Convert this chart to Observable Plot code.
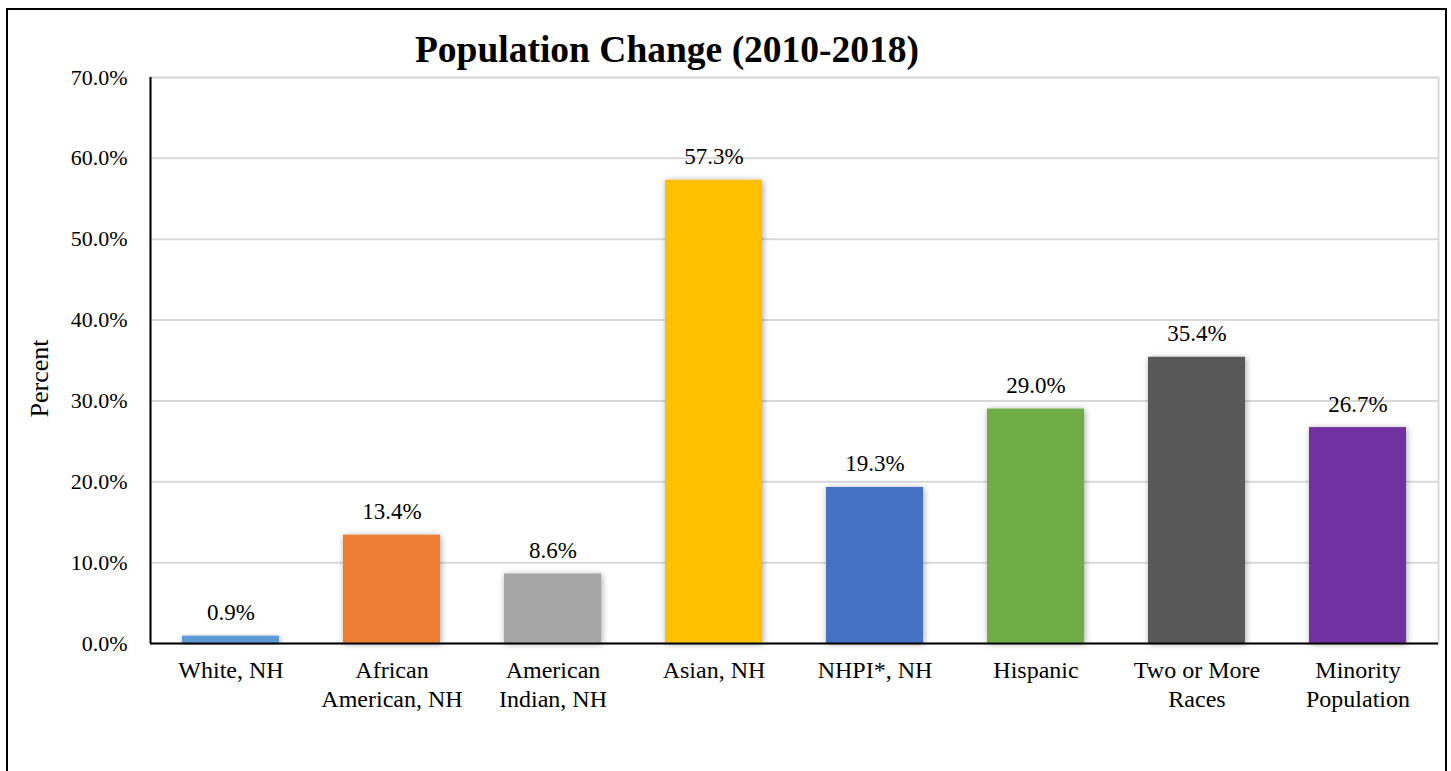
<!DOCTYPE html>
<html>
<head>
<meta charset="utf-8">
<script src="https://cdn.jsdelivr.net/npm/d3@7"></script>
<script src="https://cdn.jsdelivr.net/npm/@observablehq/plot@0.6"></script>
<style>
  html, body { margin: 0; padding: 0; background: #fff; }
  #wrap { position: relative; width: 1451px; height: 771px; overflow: hidden; background: #fff; }
  #border { position: absolute; left: 6px; top: 8px; width: 1441px; height: 800px; border: 2px solid #000; box-sizing: border-box; }
  #title { position: absolute; left: 0; width: 1334px; top: 28px; line-height: 1.15; text-align: center; font-family: "Liberation Serif", "Times New Roman", serif; font-weight: bold; font-size: 37.5px; color: #000; }
  #chart { position: absolute; left: 0; top: 0; }
  #chart svg { overflow: visible; }
  #chart svg, #chart svg text { font-family: "Liberation Serif", "Times New Roman", serif !important; }
</style>
</head>
<body>
<div id="wrap">
  <div id="border"></div>
  <div id="chart"></div>
  <div id="title">Population Change (2010-2018)</div>
</div>
<script>
const categories = ["White, NH", "African\nAmerican, NH", "American\nIndian, NH", "Asian, NH", "NHPI*, NH", "Hispanic", "Two or More\nRaces", "Minority\nPopulation"];
const values = [0.9, 13.4, 8.6, 57.3, 19.3, 29.0, 35.4, 26.7];
const colors = ["#5b9bd5", "#ed7d31", "#a5a5a5", "#ffc000", "#4472c4", "#70ad47", "#595959", "#7030a0"];
const yTicks = [0, 10, 20, 30, 40, 50, 60, 70];

const data = categories.map((c, i) => ({category: c, value: values[i]}));
const fmt = d => d.toFixed(1) + "%";
const font = "Liberation Serif";

const W = 1451, H = 771, ML = 150, MR = 13, MT = 77, MB = 128;

const chart = Plot.plot({
  width: W,
  height: H,
  marginLeft: ML,
  marginRight: MR,
  marginTop: MT,
  marginBottom: MB,
  style: {fontFamily: font, fontSize: "22px", color: "#000", background: "transparent"},
  x: {domain: categories, paddingInner: 0.4, paddingOuter: 0.2, label: null},
  y: {domain: [0, 70], ticks: yTicks, label: null},
  color: {domain: categories, range: colors},
  marks: [
    Plot.frame({stroke: "#d9d9d9", strokeWidth: 2}),
    Plot.gridY(yTicks, {stroke: "#d9d9d9", strokeWidth: 2, strokeOpacity: 1}),
    Plot.barY(data, {x: "category", y: "value", fill: "category"}),
    Plot.ruleY([0], {stroke: "#000", strokeWidth: 2}),
    Plot.ruleX([0], {x: null, stroke: "#000", strokeWidth: 2, dx: -(W - ML - MR) / 2}),
    Plot.axisY({ticks: yTicks, tickFormat: fmt, tickSize: 0, tickPadding: 23, fontSize: 22, fontFamily: font, label: null}),
    Plot.axisX({tickSize: 0, tickPadding: 15, fontSize: 24, fontFamily: font, lineHeight: 1.17, label: null}),
    Plot.text(data, {x: "category", y: "value", text: d => fmt(d.value), lineAnchor: "bottom", dy: -16, fontSize: 23, fontFamily: font, fill: "#000"}),
    Plot.text(["Percent"], {frameAnchor: "left", textAnchor: "middle", rotate: -90, dx: -111, dy: 18, fontSize: 26, fontFamily: font, fill: "#000"})
  ]
});

document.getElementById("chart").appendChild(chart);

// subtle drop shadow on bars
const svg = d3.select(chart);
const defs = svg.insert("defs", ":first-child");
const f = defs.append("filter").attr("id", "barShadow").attr("x", "-20%").attr("y", "-20%").attr("width", "140%").attr("height", "140%");
f.append("feDropShadow").attr("dx", 1).attr("dy", 1).attr("stdDeviation", 3).attr("flood-color", "#000").attr("flood-opacity", 0.35);
svg.selectAll("g[aria-label='bar'] rect").attr("filter", "url(#barShadow)");
</script>
</body>
</html>
